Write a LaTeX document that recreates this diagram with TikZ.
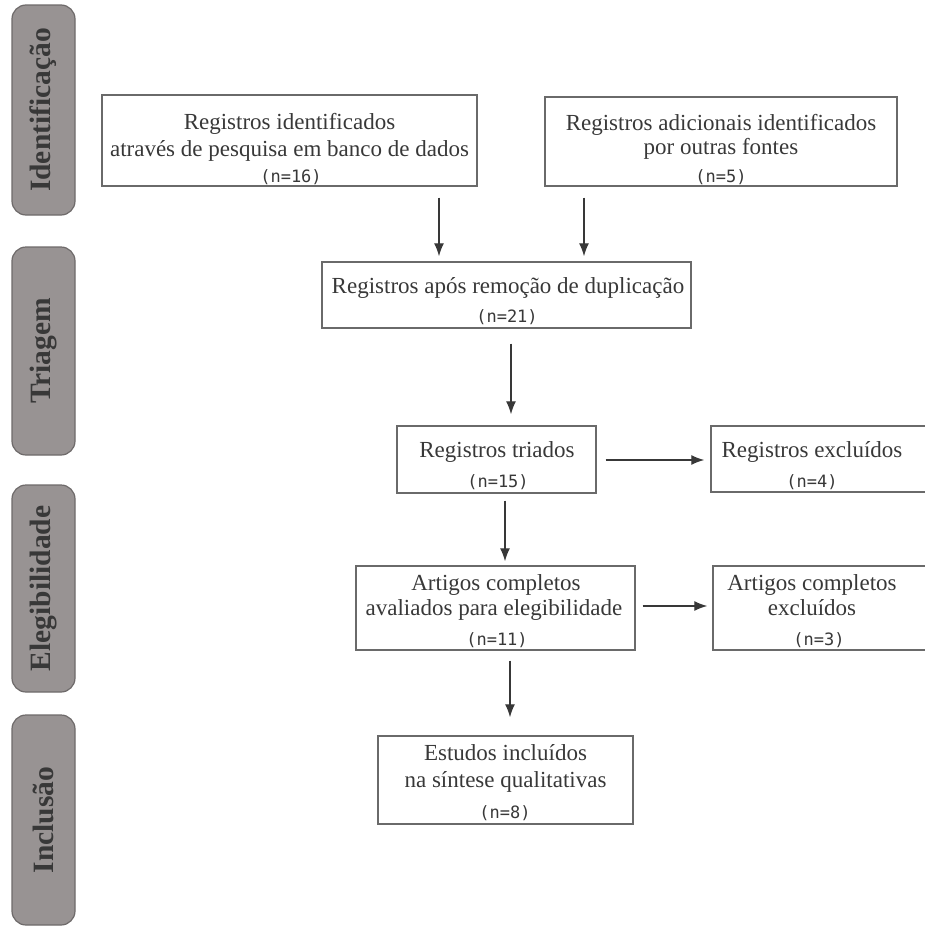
\documentclass[tikz,border=0pt]{standalone}
\usepackage{fontspec}
\setmainfont{Liberation Serif}
\newfontfamily\cntfont{DejaVu Sans Mono}
\usetikzlibrary{arrows.meta}
\definecolor{txtc}{HTML}{383838}
\definecolor{linec}{HTML}{6A6A6A}
\definecolor{phasefill}{HTML}{989393}
\definecolor{phaseline}{HTML}{6E6A6A}
\tikzset{
  boxst/.style={draw=linec, line width=1.4pt, rectangle, inner sep=0pt},
  phasest/.style={draw=phaseline, line width=1.2pt, fill=phasefill, rounded corners=14pt, inner sep=0pt},
  phasetxt/.style={rotate=90, text=txtc, font=\fontsize{29.5}{34}\selectfont\bfseries},
  linetxt/.style={anchor=base, text=txtc, inner sep=0pt, font=\fontsize{23}{27}\selectfont},
  cnttxt/.style={anchor=base, text=txtc, inner sep=0pt, font=\cntfont\fontsize{17}{20}\selectfont},
  arr/.style={draw=txtc, line width=1.3pt, -{Latex[length=13pt,width=10pt]}}
}
\begin{document}
\begin{tikzpicture}[x=1pt,y=-1pt]
\useasboundingbox (0,0) rectangle (925,929);
\begin{scope}
\clip (0,0) rectangle (925,929);
% phase labels
\node[phasest, minimum width=63pt, minimum height=210pt] (p1) at (43.5,110) {};
\node[phasetxt] (p1t) at (p1.center) {Identificação};
\node[phasest, minimum width=63pt, minimum height=208pt] (p2) at (43.5,351) {};
\node[phasetxt] (p2t) at (p2.center) {Triagem};
\node[phasest, minimum width=63pt, minimum height=207pt] (p3) at (43.5,588.5) {};
\node[phasetxt] (p3t) at (p3.center) {Elegibilidade};
\node[phasest, minimum width=63pt, minimum height=210pt] (p4) at (43.5,820) {};
\node[phasetxt] (p4t) at (p4.center) {Inclusão};

% boxes
\node[boxst, minimum width=375pt, minimum height=91pt] (b1) at (289.5,140.5) {};
\node[linetxt] (b1a) at (289.5,129) {Registros identificados};
\node[linetxt] (b1b) at (289.5,156) {através de pesquisa em banco de dados};
\node[cnttxt] (b1c) at (291,182) {(n=16)};

\node[boxst, minimum width=352pt, minimum height=89pt] (b2) at (721,141.5) {};
\node[linetxt] (b2a) at (721,130) {Registros adicionais identificados};
\node[linetxt] (b2b) at (721,154) {por outras fontes};
\node[cnttxt] (b2c) at (721,182) {(n=5)};

\node[boxst, minimum width=369pt, minimum height=66pt] (b3) at (506.5,295) {};
\node[linetxt] (b3a) at (508,293) {Registros após remoção de duplicação};
\node[cnttxt] (b3c) at (507,322) {(n=21)};

\node[boxst, minimum width=199pt, minimum height=67pt] (b4) at (496.5,459.5) {};
\node[linetxt] (b4a) at (497,457) {Registros triados};
\node[cnttxt] (b4c) at (498,487) {(n=15)};

\node[boxst, minimum width=220pt, minimum height=66pt] (b5) at (821,459) {};
\node[linetxt] (b5a) at (812,457) {Registros excluídos};
\node[cnttxt] (b5c) at (812,487) {(n=4)};

\node[boxst, minimum width=279pt, minimum height=84pt] (b6) at (495.5,608) {};
\node[linetxt] (b6a) at (496,590) {Artigos completos};
\node[linetxt] (b6b) at (494,615) {avaliados para elegibilidade};
\node[cnttxt] (b6c) at (497,645) {(n=11)};

\node[boxst, minimum width=218pt, minimum height=84pt] (b7) at (822,608) {};
\node[linetxt] (b7a) at (812,590) {Artigos completos};
\node[linetxt] (b7b) at (812,615) {excluídos};
\node[cnttxt] (b7c) at (819,645) {(n=3)};

\node[boxst, minimum width=255pt, minimum height=88pt] (b8) at (505.5,780) {};
\node[linetxt] (b8a) at (505.5,760) {Estudos incluídos};
\node[linetxt] (b8b) at (505.5,787) {na síntese qualitativas};
\node[cnttxt] (b8c) at (505,818) {(n=8)};
\end{scope}

% connectors
\coordinate (x1) at (439,0);
\coordinate (x2) at (584,0);
\coordinate (x3) at (511,0);
\coordinate (x4) at (505,0);
\coordinate (x5) at (510,0);
\coordinate (y1) at (0,460);
\coordinate (y2) at (0,606);
\draw[arr, shorten <=11pt, shorten >=5pt] (x1 |- b1.south) -- (x1 |- b3.north);
\draw[arr, shorten <=11pt, shorten >=5pt] (x2 |- b2.south) -- (x2 |- b3.north);
\draw[arr, shorten <=15pt, shorten >=11pt] (x3 |- b3.south) -- (x3 |- b4.north);
\draw[arr, shorten <=9pt, shorten >=6pt] (b4.east |- y1) -- (b5.west |- y1);
\draw[arr, shorten <=7pt, shorten >=4pt] (x4 |- b4.south) -- (x4 |- b6.north);
\draw[arr, shorten <=7pt, shorten >=5pt] (b6.east |- y2) -- (b7.west |- y2);
\draw[arr, shorten <=10pt, shorten >=18pt] (x5 |- b6.south) -- (x5 |- b8.north);
\end{tikzpicture}
\end{document}
